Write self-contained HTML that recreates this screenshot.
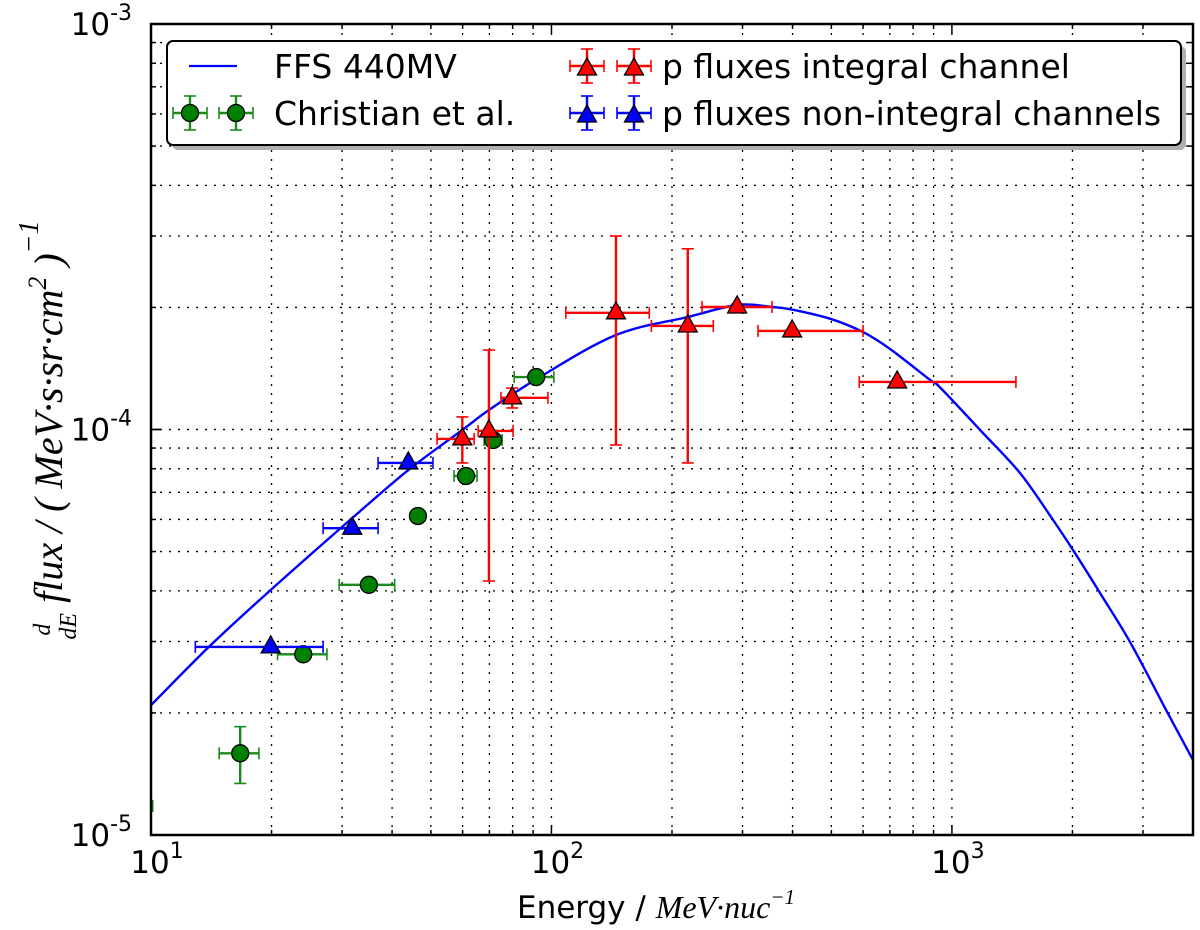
<!DOCTYPE html>
<html><head><meta charset="utf-8"><style>
body{margin:0;background:#fff}
svg{display:block;font-family:"DejaVu Sans","Liberation Sans",sans-serif}
</style></head><body>
<svg id="chart" width="1200" height="930" viewBox="0 0 1200 930" xmlns="http://www.w3.org/2000/svg">
<g id="grid"></g>
<g id="curve"></g>
<g id="marks"></g>
<g id="axes"></g>
<g id="legend"></g>
<text x="517" y="918" font-size="31">Energy / <tspan style="font-family:'Liberation Serif',serif;font-style:italic" font-size="32">MeV·nuc</tspan><tspan style="font-family:'Liberation Serif',serif;font-style:italic" font-size="21" dy="-14">−1</tspan></text>
<g transform="translate(62,430) rotate(-90)">
<text text-anchor="middle" style="font-family:'Liberation Serif',serif;font-style:italic" font-size="40"><tspan font-size="24" dy="-12">d</tspan><tspan font-size="24" dx="-16" dy="26">dE</tspan><tspan dy="-14"> flux / ( MeV·s·sr·cm</tspan><tspan font-size="26" dy="-16">2</tspan><tspan dy="16"> )</tspan><tspan font-size="28" dy="-24">−1</tspan></text>
</g>
</svg>
<script>
// ---- data ----
const curveE = [10,14.0,19.9,31.4,43.9,59.9,69.8,93.6,144.9,219,290.8,357,399,497,600,700,883,934,1176,1479,1789,2008,2344,2786,3448,4000];
const curveF = [2.09e-5,2.92e-5,4.02e-5,5.98e-5,7.94e-5,9.97e-5,1.117e-4,1.347e-4,1.71e-4,1.894e-4,2.028e-4,2.005e-4,1.975e-4,1.875e-4,1.739e-4,1.58e-4,1.324e-4,1.27e-4,9.97e-5,7.81e-5,5.98e-5,5.04e-5,3.95e-5,2.99e-5,2.01e-5,1.53e-5];

const christE   = [8.7,16.7,24.0,35.0,46.4,61.2,71.5,91.6];
const christF   = [1.18e-5,1.59e-5,2.79e-5,4.14e-5,6.12e-5,7.68e-5,9.42e-5,1.347e-4];
const christElo = [8.0,14.8,20.7,29.5,46.4,57.1,67.9,80.7];
const christEhi = [10.1,18.6,27.5,40.6,46.4,65.2,75.3,101.4];
const christFlo = [1.18e-5,1.34e-5,2.79e-5,4.14e-5,6.12e-5,7.68e-5,9.42e-5,1.347e-4];
const christFhi = [1.18e-5,1.85e-5,2.79e-5,4.14e-5,6.12e-5,7.68e-5,9.42e-5,1.347e-4];

const nonIntE   = [19.9,31.8,43.9];
const nonIntF   = [2.91e-5,5.71e-5,8.27e-5];
const nonIntElo = [12.9,26.9,36.9];
const nonIntEhi = [26.9,36.9,50.6];

const intE   = [59.9,69.8,79.8,144.9,219,290.8,399,730];
const intF   = [9.48e-5,9.92e-5,1.197e-4,1.94e-4,1.80e-4,2.005e-4,1.75e-4,1.31e-4];
const intElo = [51.8,65.6,74.8,108.6,177.6,237.7,328,587];
const intEhi = [64.1,80.2,98.0,175.5,253.6,355.6,600,1445];
const intFlo = [8.27e-5,4.23e-5,1.13e-4,9.16e-5,8.27e-5,1.97e-4,1.75e-4,1.31e-4];
const intFhi = [1.074e-4,1.57e-4,1.265e-4,3.0e-4,2.79e-4,2.04e-4,1.75e-4,1.31e-4];

const xDecades = [1,2,3];
const yDecades = [-3,-4,-5];

// ---- axes ----
const X0=151,X1=1193,Y0=24,Y1=835;
const xmin=Math.log10(10), xmax=Math.log10(4000), ymin=-5, ymax=-3;
function sx(e){return X0+(Math.log10(e)-xmin)/(xmax-xmin)*(X1-X0);}
function sy(f){return Y1-(Math.log10(f)-ymin)/(ymax-ymin)*(Y1-Y0);}
const NS="http://www.w3.org/2000/svg";
function mk(tag,attrs,parent){const el=document.createElementNS(NS,tag);for(const k in attrs)el.setAttribute(k,attrs[k]);parent.appendChild(el);return el;}

const grid=document.getElementById('grid');
const axes=document.getElementById('axes');
for(let d=1; d<=3; d++){
  for(let m=1;m<=9;m++){
    const e=m*Math.pow(10,d); if(e>4000) break;
    const x=sx(e);
    if(x>X0+1 && x<X1-1){
      const g=mk('line',{x1:x,x2:x,y1:Y0,y2:Y1,stroke:'#000','stroke-width':1.3,'stroke-dasharray':'2,7'},grid);
      
      
    }
    const L=m===1?10:5;
    mk('line',{x1:x,x2:x,y1:Y1,y2:Y1-L,stroke:'#000','stroke-width':1.5},axes);
    mk('line',{x1:x,x2:x,y1:Y0,y2:Y0+L,stroke:'#000','stroke-width':1.5},axes);
  }
}
for(let d=-5; d<=-4; d++){
  for(let m=1;m<=10;m++){
    const f=m*Math.pow(10,d);
    const y=sy(f);
    if(y>Y0+1 && y<Y1-1){
      const g=mk('line',{x1:X0,x2:X1,y1:y,y2:y,stroke:'#000','stroke-width':1.3,'stroke-dasharray':'2,7'},grid);
      
      
    }
    const L=(m===1||m===10)?10:5;
    mk('line',{x1:X0,x2:X0+L,y1:y,y2:y,stroke:'#000','stroke-width':1.5},axes);
    mk('line',{x1:X1,x2:X1-L,y1:y,y2:y,stroke:'#000','stroke-width':1.5},axes);
  }
}
const frame=mk('rect',{x:X0,y:Y0,width:X1-X0,height:Y1-Y0,fill:'none',stroke:'#000','stroke-width':2.5},axes);


xDecades.forEach(d=>{
  const t=mk('text',{x:sx(Math.pow(10,d))+6,y:873,'font-size':31,'text-anchor':'middle'},axes);
  
  
  t.innerHTML='10<tspan font-size="22" dy="-15">'+d+'</tspan>';
});
yDecades.forEach(d=>{
  const t=mk('text',{x:132,y:sy(Math.pow(10,d))+11,'font-size':31,'text-anchor':'end'},axes);
  
  
  t.innerHTML='10<tspan font-size="22" dy="-15">'+d+'</tspan>';
});

// ---- curve (smoothed through data points) ----
const curveG=document.getElementById('curve');
const P=curveE.map((e,i)=>[sx(e),sy(curveF[i])]);
let p='M'+P[0][0].toFixed(1)+','+P[0][1].toFixed(1);
for(let i=0;i<P.length-1;i++){
  const p0=P[Math.max(0,i-1)],p1=P[i],p2=P[i+1],p3=P[Math.min(P.length-1,i+2)];
  const c1=[p1[0]+(p2[0]-p0[0])/6,p1[1]+(p2[1]-p0[1])/6];
  const c2=[p2[0]-(p3[0]-p1[0])/6,p2[1]-(p3[1]-p1[1])/6];
  p+=`C${c1[0].toFixed(1)},${c1[1].toFixed(1)} ${c2[0].toFixed(1)},${c2[1].toFixed(1)} ${p2[0].toFixed(1)},${p2[1].toFixed(1)}`;
}
const cp=mk('path',{d:p,fill:'none',stroke:'#0000ff','stroke-width':2.4,'stroke-linejoin':'round'},curveG);



// ---- points ----
const marks=document.getElementById('marks');
const clipR=mk('clipPath',{id:'pc'},marks); mk('rect',{x:X0,y:Y0,width:X1-X0,height:Y1-Y0},clipR);
const inner=mk('g',{'clip-path':'url(#pc)'},marks);
function errbar(g,x,y,xl,xh,yl,yh,col){
  if(xh-xl>1){mk('line',{x1:xl,x2:xh,y1:y,y2:y,stroke:col,'stroke-width':2.4},g);
    mk('line',{x1:xl,x2:xl,y1:y-6,y2:y+6,stroke:col,'stroke-width':1.6},g);
    mk('line',{x1:xh,x2:xh,y1:y-6,y2:y+6,stroke:col,'stroke-width':1.6},g);}
  if(yl-yh>1){mk('line',{x1:x,x2:x,y1:yh,y2:yl,stroke:col,'stroke-width':2.4},g);
    mk('line',{x1:x-6,x2:x+6,y1:yh,y2:yh,stroke:col,'stroke-width':1.6},g);
    mk('line',{x1:x-6,x2:x+6,y1:yl,y2:yl,stroke:col,'stroke-width':1.6},g);}
}
function tri(g,x,y,col){return mk('path',{d:`M${x},${y-11}L${x+9.5},${y+6}L${x-9.5},${y+6}Z`,fill:col,stroke:'#000','stroke-width':1.3},g);}
christE.forEach((e,i)=>{
  const g=mk('g',{},inner);
  
  
  const x=sx(e),y=sy(christF[i]);
  errbar(g,x,y,sx(christElo[i]),sx(christEhi[i]),sy(christFlo[i]),sy(christFhi[i]),'#1a8a1a');
  mk('circle',{cx:x,cy:y,r:8.5,fill:'#008000',stroke:'#000','stroke-width':1.3},g);
});
nonIntE.forEach((e,i)=>{
  const g=mk('g',{},inner);
  
  
  const x=sx(e),y=sy(nonIntF[i]);
  errbar(g,x,y,sx(nonIntElo[i]),sx(nonIntEhi[i]),y,y,'#0000ff');
  tri(g,x,y,'#0000ff');
});
intE.forEach((e,i)=>{
  const g=mk('g',{},inner);
  
  
  const x=sx(e),y=sy(intF[i]);
  errbar(g,x,y,sx(intElo[i]),sx(intEhi[i]),sy(intFlo[i]),sy(intFhi[i]),'#ff0000');
  tri(g,x,y,'#ff0000');
});

// ---- legend ----
const lg=document.getElementById('legend');
mk('rect',{x:172,y:46,width:1014,height:104,rx:6,fill:'#b0b0b0'},lg);
const box=mk('rect',{x:167,y:41,width:1014,height:104,rx:6,fill:'#fff',stroke:'#000','stroke-width':2},lg);


function entry(name,label,tx,ty){
  const g=mk('g',{},lg);
  
  
  const t=mk('text',{x:tx,y:ty+12,'font-size':33},g); t.textContent=label;
  return g;
}
let g1=entry('legend-entry-ffs','FFS 440MV',274,66);
mk('line',{x1:189,x2:237,y1:66,y2:66,stroke:'#0000ff','stroke-width':2.2},g1);
let g2=entry('legend-entry-christian','Christian et al.',274,113);
[190,236].forEach(x=>{errbar(g2,x,113,x-17,x+17,130,96,'#1a8a1a');mk('circle',{cx:x,cy:113,r:8.5,fill:'#008000',stroke:'#000','stroke-width':1.3},g2);});
let g3=entry('legend-entry-integral','p fluxes integral channel',662,66);
[587,634].forEach(x=>{errbar(g3,x,66,x-17,x+17,83,49,'#ff0000');tri(g3,x,69,'#ff0000');});
let g4=entry('legend-entry-non-integral','p fluxes non-integral channels',662,113);
[587,634].forEach(x=>{errbar(g4,x,113,x-17,x+17,130,96,'#0000ff');tri(g4,x,116,'#0000ff');});
</script>
</body></html>
